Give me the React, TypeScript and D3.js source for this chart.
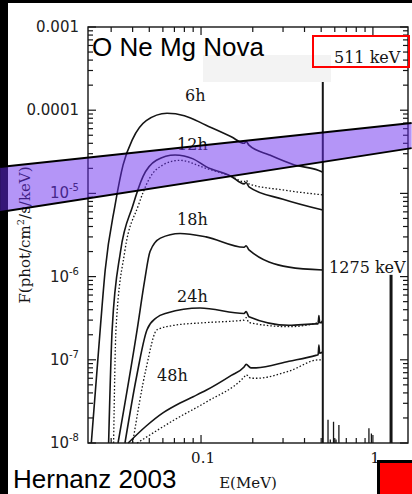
import React, { useEffect, useRef } from 'react';
import * as d3 from 'd3';

type Pt = [number, number]; // [E (MeV), F (phot/cm2/s/keV)]

// axis ranges
const energyDomain = [0.022, 1.6];
const fluxDomain = [1e-8, 1e-3];

// tick labels
const energyTicks = [0.1, 1];
const energyTickLabels = ['0.1', '1'];
const fluxTicks = [1e-3, 1e-4, 1e-5, 1e-6, 1e-7, 1e-8];
const fluxTickBase = ['0.001', '0.0001', '10', '10', '10', '10'];
const fluxTickExp = ['', '', '-5', '-6', '-7', '-8'];

// spectra (solid = total, dotted = companion model)
const spec6h: Pt[] = [
  [0.0230, 1e-8], [0.0259, 2.3e-7], [0.0277, 1.2e-6], [0.0316, 7.2e-6], [0.0352, 2.2e-5],
  [0.040, 4.5e-5], [0.048, 7.5e-5], [0.0634, 9.2e-5], [0.080, 8.6e-5], [0.107, 6.6e-5],
  [0.150, 4.8e-5], [0.178, 4.0e-5], [0.183, 4.2e-5], [0.190, 3.8e-5], [0.250, 2.9e-5],
  [0.350, 2.2e-5], [0.480, 1.9e-5], [0.511, 1.8e-5],
];
const spec12h: Pt[] = [
  [0.0290, 1e-8], [0.0304, 2.3e-7], [0.0340, 2e-6], [0.040, 7e-6], [0.046, 1.6e-5],
  [0.055, 2.5e-5], [0.0706, 2.9e-5], [0.090, 2.6e-5], [0.107, 2.1e-5], [0.150, 1.6e-5],
  [0.178, 1.3e-5], [0.183, 1.35e-5], [0.190, 1.2e-5], [0.300, 8.5e-6], [0.511, 6.3e-6],
];
const spec12hDot: Pt[] = [
  [0.0310, 1e-8], [0.0320, 2.3e-7], [0.0360, 2e-6], [0.043, 7e-6], [0.050, 1.5e-5],
  [0.060, 2.2e-5], [0.075, 2.5e-5], [0.107, 2.0e-5], [0.150, 1.6e-5], [0.178, 1.38e-5],
  [0.183, 1.45e-5], [0.190, 1.3e-5], [0.300, 1.1e-5], [0.511, 9.6e-6],
];
const spec18h: Pt[] = [
  [0.0329, 1e-8], [0.0425, 2.3e-7], [0.047, 9e-7], [0.0505, 2.0e-6], [0.058, 2.9e-6],
  [0.0755, 3.3e-6], [0.107, 3.0e-6], [0.178, 2.25e-6], [0.183, 2.35e-6], [0.190, 2.1e-6],
  [0.325, 1.3e-6], [0.511, 1.2e-6],
];
const spec24h: Pt[] = [
  [0.0361, 1e-8], [0.042, 6e-8], [0.0485, 2.3e-7], [0.055, 3.2e-7], [0.0634, 3.65e-7],
  [0.0987, 4.2e-7], [0.178, 3.6e-7], [0.183, 3.8e-7], [0.190, 3.3e-7], [0.325, 2.6e-7],
  [0.466, 2.7e-7], [0.480, 2.7e-7], [0.485, 3.4e-7], [0.490, 2.8e-7], [0.511, 2.8e-7],
];
const spec24hDot: Pt[] = [
  [0.040, 1e-8], [0.048, 8e-8], [0.0555, 2.3e-7], [0.070, 2.6e-7], [0.107, 2.8e-7],
  [0.178, 3.0e-7], [0.183, 3.2e-7], [0.190, 2.8e-7], [0.325, 2.5e-7], [0.480, 2.8e-7],
  [0.485, 3.1e-7], [0.490, 2.9e-7], [0.511, 2.9e-7],
];
const spec48h: Pt[] = [
  [0.0377, 1e-8], [0.048, 1.6e-8], [0.060, 2.3e-8], [0.075, 3.0e-8], [0.090, 3.6e-8],
  [0.107, 4.3e-8], [0.150, 6.5e-8], [0.178, 8.2e-8], [0.183, 8.8e-8], [0.195, 8.0e-8],
  [0.209, 8.0e-8], [0.325, 9.6e-8], [0.466, 1.13e-7], [0.480, 1.15e-7], [0.485, 1.5e-7],
  [0.490, 1.2e-7], [0.511, 1.24e-7],
];
const spec48hDot: Pt[] = [
  [0.0425, 1e-8], [0.055, 1.4e-8], [0.070, 1.9e-8], [0.107, 3.1e-8], [0.178, 6.2e-8],
  [0.183, 6.6e-8], [0.195, 6.0e-8], [0.209, 6.0e-8], [0.325, 7.3e-8], [0.485, 1.0e-7],
  [0.511, 1.0e-7],
];

const solidSpectra = [spec6h, spec12h, spec18h, spec24h, spec48h];
const dottedSpectra = [spec12hDot, spec24hDot, spec48hDot];

// time labels and where they sit (E, F of text baseline start)
const timeLabels = ['6h', '12h', '18h', '24h', '48h'];
const timeLabelAt: Pt[] = [[0.0807, 1.29e-4], [0.0725, 3.3e-5], [0.0725, 4.17e-6], [0.0725, 4.95e-7], [0.0555, 5.56e-8]];

// gamma-ray lines: [E, peak F]
const line511: Pt = [0.511, 3e-4];
const line1275: Pt = [1.275, 1.05e-6];
const weakLines: Pt[] = [[0.548, 1.9e-8], [0.565, 1.1e-8], [0.59, 1.8e-8], [0.61, 1.1e-8], [0.634, 1.65e-8], [0.948, 1.5e-8], [0.98, 1.3e-8]];
const line1275Label: Pt = [0.556, 1.1e-6];

// sensitivity band overlay: energy ends, top and bottom flux
const bandEnergy = [0.00678, 1.68];
const bandTop = [2.07e-5, 7.0e-5];
const bandBottom = [5.97e-6, 3.5e-5];

const W = 412;
const H = 494;

const App: React.FC = () => {
  const svgRef = useRef<SVGSVGElement>(null);

  useEffect(() => {
    if (!svgRef.current) return;
    const svg = d3.select(svgRef.current);
    svg.selectAll('*').remove();

    const left = 88, right = 408, top = 27, bottom = 443;
    const x = d3.scaleLog().domain(energyDomain).range([left, right]);
    const y = d3.scaleLog().domain(fluxDomain).range([bottom, top]);

    const ink = '#151515';
    const serif = 'DejaVu Serif, serif';
    const sans = 'DejaVu Sans, sans-serif';

    svg.append('rect').attr('width', W).attr('height', H).attr('fill', '#fff');

    // ticks on all four sides, pointing inward
    const xt = x.ticks();
    const yt = y.ticks();
    const isDecade = (v: number) => Math.abs(Math.log10(v) - Math.round(Math.log10(v))) < 1e-6;
    const tickG = svg.append('g').attr('stroke', ink).attr('stroke-width', 1.2);
    xt.forEach(v => {
      const len = isDecade(v) ? 8 : 5;
      tickG.append('line').attr('x1', x(v)).attr('x2', x(v)).attr('y1', bottom).attr('y2', bottom - len);
      tickG.append('line').attr('x1', x(v)).attr('x2', x(v)).attr('y1', top).attr('y2', top + len);
    });
    yt.forEach(v => {
      const len = isDecade(v) ? 8 : 5;
      tickG.append('line').attr('y1', y(v)).attr('y2', y(v)).attr('x1', left).attr('x2', left + len);
      tickG.append('line').attr('y1', y(v)).attr('y2', y(v)).attr('x1', right).attr('x2', right - len);
    });

    // frame
    svg.append('rect')
      .attr('x', left).attr('y', top)
      .attr('width', right - left).attr('height', bottom - top)
      .attr('fill', 'none').attr('stroke', ink).attr('stroke-width', 1.4);

    // y tick labels
    fluxTicks.forEach((v, i) => {
      const t = svg.append('text')
        .attr('x', 79)
        .attr('y', y(v) + 5)
        .attr('text-anchor', 'end')
        .style('font-family', sans)
        .style('font-size', '15px')
        .style('fill', '#222');
      t.append('tspan').text(fluxTickBase[i]);
      if (fluxTickExp[i]) {
        t.append('tspan').attr('dy', -7).style('font-size', '10px').text(fluxTickExp[i]);
      }
    });

    // x tick labels
    energyTicks.forEach((v, i) => {
      svg.append('text')
        .attr('x', x(v) + 2)
        .attr('y', bottom + 20)
        .attr('text-anchor', 'middle')
        .style('font-family', serif)
        .style('font-size', '15px')
        .style('fill', ink)
        .text(energyTickLabels[i]);
    });

    // axis titles
    svg.append('text')
      .attr('x', (left + right) / 2)
      .attr('y', 488)
      .attr('text-anchor', 'middle')
      .style('font-family', serif)
      .style('font-size', '15px')
      .style('fill', ink)
      .text('E(MeV)');

    const yt2 = svg.append('text')
      .attr('transform', `translate(30,${(top + bottom) / 2}) rotate(-90)`)
      .attr('text-anchor', 'middle')
      .style('font-family', serif)
      .style('font-size', '15px')
      .style('fill', ink);
    yt2.append('tspan').text('F(phot/cm');
    yt2.append('tspan').attr('dy', -6).style('font-size', '10px').text('2');
    yt2.append('tspan').attr('dy', 6).text('/s/keV)');

    // spectra
    const line = d3.line<Pt>()
      .x(d => x(d[0]))
      .y(d => y(d[1]))
      .curve(d3.curveMonotoneX);

    svg.append('g').selectAll('path.solid')
      .data(solidSpectra)
      .enter().append('path')
      .attr('class', 'solid')
      .attr('d', d => line(d))
      .attr('fill', 'none')
      .attr('stroke', ink)
      .attr('stroke-width', 1.6);

    svg.append('g').selectAll('path.dot')
      .data(dottedSpectra)
      .enter().append('path')
      .attr('class', 'dot')
      .attr('d', d => line(d))
      .attr('fill', 'none')
      .attr('stroke', ink)
      .attr('stroke-width', 1.3)
      .attr('stroke-dasharray', '1.5,2');

    // gamma-ray lines
    svg.append('line')
      .attr('x1', x(line511[0])).attr('x2', x(line511[0]))
      .attr('y1', y(1e-8)).attr('y2', y(line511[1]))
      .attr('stroke', ink).attr('stroke-width', 2);
    svg.append('line')
      .attr('x1', x(line1275[0])).attr('x2', x(line1275[0]))
      .attr('y1', y(1e-8)).attr('y2', y(line1275[1]))
      .attr('stroke', ink).attr('stroke-width', 3);
    svg.append('g').selectAll('line')
      .data(weakLines)
      .enter().append('line')
      .attr('x1', d => x(d[0])).attr('x2', d => x(d[0]))
      .attr('y1', y(1e-8)).attr('y2', d => y(d[1]))
      .attr('stroke', ink).attr('stroke-width', 1.3);

    // time labels
    timeLabels.forEach((s, i) => {
      svg.append('text')
        .attr('x', x(timeLabelAt[i][0]))
        .attr('y', y(timeLabelAt[i][1]))
        .style('font-family', serif)
        .style('font-size', '16px')
        .style('fill', ink)
        .text(s);
    });

    svg.append('text')
      .attr('x', x(line1275Label[0]))
      .attr('y', y(line1275Label[1]))
      .style('font-family', serif)
      .style('font-size', '16px')
      .style('fill', ink)
      .text('1275 keV');

    // slide overlays
    svg.append('rect').attr('x', 0).attr('y', 0).attr('width', 8).attr('height', H).attr('fill', '#000');
    svg.append('rect').attr('x', 0).attr('y', 0).attr('width', W).attr('height', 3).attr('fill', '#000');

    svg.append('rect').attr('x', 203).attr('y', 55).attr('width', 128).attr('height', 27).attr('fill', '#f3f3f3');

    svg.append('text')
      .attr('x', 92)
      .attr('y', 56)
      .style('font-family', 'Liberation Sans, Arial, sans-serif')
      .style('font-size', '26px')
      .style('fill', '#000')
      .text('O Ne Mg Nova');

    svg.append('rect')
      .attr('x', 313).attr('y', 36).attr('width', 96).attr('height', 31)
      .attr('fill', 'none').attr('stroke', '#f00').attr('stroke-width', 2);
    svg.append('text')
      .attr('x', 334)
      .attr('y', 63)
      .style('font-family', serif)
      .style('font-size', '16px')
      .style('fill', ink)
      .text('511 keV');

    // translucent purple band
    const bandPts: Pt[] = [
      [bandEnergy[0], bandTop[0]], [bandEnergy[1], bandTop[1]],
      [bandEnergy[1], bandBottom[1]], [bandEnergy[0], bandBottom[0]],
    ];
    svg.append('path')
      .attr('d', 'M' + bandPts.map(d => `${x(d[0])},${y(d[1])}`).join('L') + 'Z')
      .attr('fill', '#6a2cf0')
      .attr('fill-opacity', 0.5);
    const edge = d3.line<Pt>().x(d => x(d[0])).y(d => y(d[1]));
    [[bandTop[0], bandTop[1]], [bandBottom[0], bandBottom[1]]].forEach(f => {
      svg.append('path')
        .attr('d', edge([[bandEnergy[0], f[0]], [bandEnergy[1], f[1]]]))
        .attr('stroke', '#000')
        .attr('stroke-width', 2)
        .attr('fill', 'none');
    });

    svg.append('text')
      .attr('x', 13)
      .attr('y', 488)
      .style('font-family', 'Liberation Sans, Arial, sans-serif')
      .style('font-size', '26px')
      .style('fill', '#000')
      .text('Hernanz 2003');

    svg.append('rect')
      .attr('x', 378.5).attr('y', 461.5).attr('width', 40).attr('height', 40)
      .attr('fill', '#f00').attr('stroke', '#000').attr('stroke-width', 3);
  }, []);

  return (
    <div style={{ position: 'absolute', left: 0, top: 0 }}>
      <svg ref={svgRef} width={W} height={H} style={{ display: 'block' }}></svg>
    </div>
  );
};

export default App;
